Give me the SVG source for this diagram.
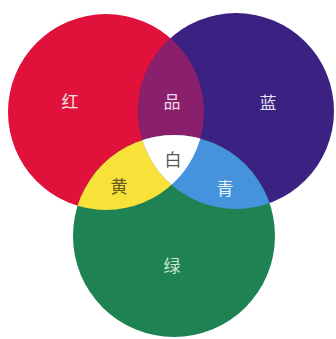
<svg xmlns="http://www.w3.org/2000/svg" width="336" height="339" viewBox="0 0 336 339">
<style>
.t{font-family:"Noto Sans CJK SC",sans-serif;font-size:17px;text-anchor:middle;dominant-baseline:central}
</style>
<defs>
<circle id="cR" cx="106" cy="112" r="98"/>
<circle id="cB" cx="236" cy="111" r="98"/>
<circle id="cG" cx="174" cy="236" r="101"/>
<clipPath id="kR"><use href="#cR"/></clipPath>
<clipPath id="kB"><use href="#cB"/></clipPath>
<clipPath id="kG"><use href="#cG"/></clipPath>
</defs>
<rect width="336" height="339" fill="#ffffff"/>
<g id="red"><use href="#cR" fill="#e0123c"/></g>
<g id="blue"><use href="#cB" fill="#3b2282"/></g>
<g id="green"><use href="#cG" fill="#1f8252"/></g>
<g id="magenta" clip-path="url(#kR)"><use href="#cB" fill="#8a1f6c"/></g>
<g id="yellow" clip-path="url(#kR)"><use href="#cG" fill="#f8e23a"/></g>
<g id="cyan" clip-path="url(#kB)"><use href="#cG" fill="#4593dd"/></g>
<g id="white" clip-path="url(#kR)"><g clip-path="url(#kB)"><use href="#cG" fill="#ffffff"/></g></g>
<g id="labels">
<text class="t" x="70" y="100" fill="#f4e0e4">红</text>
<text class="t" x="172" y="100" fill="#f0d8ea">品</text>
<text class="t" x="268" y="101" fill="#e6e2f2">蓝</text>
<text class="t" x="173" y="158" fill="#555555">白</text>
<text class="t" x="119" y="185" fill="#6a5a20">黄</text>
<text class="t" x="225" y="187" fill="#e8f0fa">青</text>
<text class="t" x="172" y="264" fill="#c8e6d0">绿</text>
</g>
</svg>
